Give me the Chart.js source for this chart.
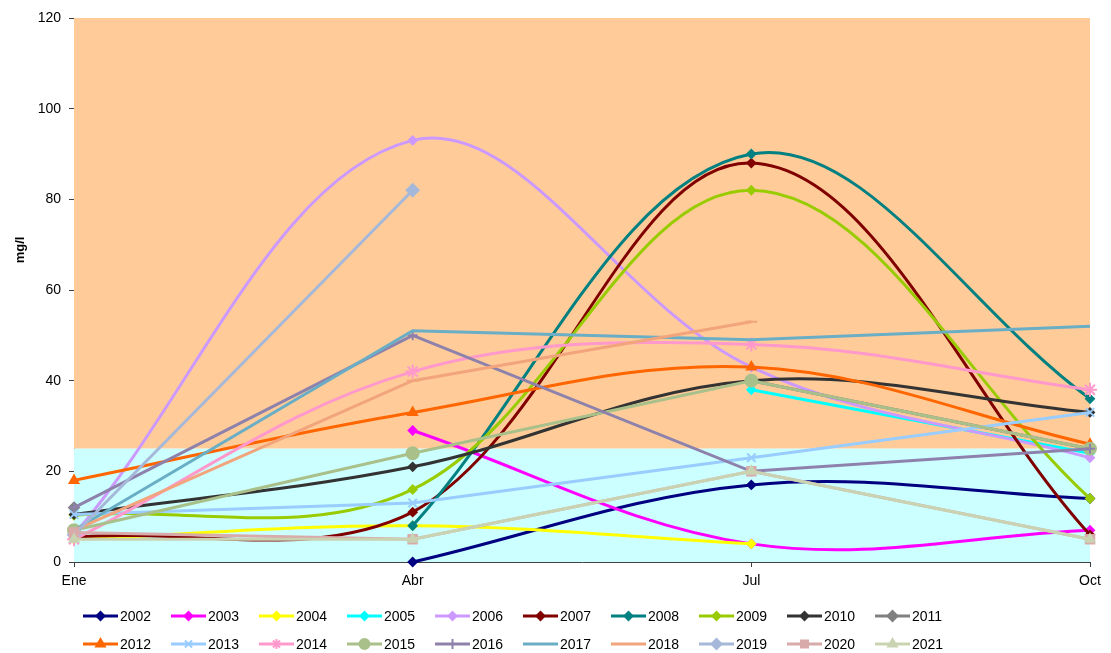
<!DOCTYPE html>
<html>
<head>
<meta charset="utf-8">
<title>mg/l</title>
<script src="https://cdn.jsdelivr.net/npm/chart.js@4/dist/chart.umd.min.js"></script>
<style>
  body { margin: 0; background: #fff; }
  #wrap { width: 1111px; height: 653px; position: relative; }
</style>
</head>
<body>
<div id="wrap"><canvas id="waterChart"></canvas></div>
<script>
const months = ["Ene", "Abr", "Jul", "Oct"];
const years = ["2002", "2003", "2004", "2005", "2006", "2007", "2008", "2009", "2010", "2011",
               "2012", "2013", "2014", "2015", "2016", "2017", "2018", "2019", "2020", "2021"];

// one array per year: Ene, Abr, Jul, Oct (null = no sample)
const v2002 = [null, 0, 17, 14];
const v2003 = [null, 29, 4, 7];
const v2004 = [5, 8, 4, null];
const v2005 = [null, null, 38, 24];
const v2006 = [6, 93, 43, 23];
const v2007 = [5.5, 11, 88, 6];
const v2008 = [null, 8, 90, 36];
const v2009 = [10.3, 16, 82, 14];
const v2010 = [10.5, 21, 40, 33];
const v2011 = [12, null, 40, 25];
const v2012 = [18, 33, 43, 26];
const v2013 = [10.5, 13, 23, 33];
const v2014 = [5, 42, 48, 38];
const v2015 = [7, 24, 40, 25];
const v2016 = [12, 50, 20, 25];
const v2017 = [7, 51, 49, 52];
const v2018 = [7, 40, 53, null];
const v2019 = [6, 82, null, null];
const v2020 = [6.5, 5, 20, 5];
const v2021 = [5, 5, 20, 5];

const yTicks = [0, 20, 40, 60, 80, 100, 120];
const limit = 25;

const values = [v2002, v2003, v2004, v2005, v2006, v2007, v2008, v2009, v2010, v2011,
                v2012, v2013, v2014, v2015, v2016, v2017, v2018, v2019, v2020, v2021];

const colors = ["#000080", "#FF00FF", "#FFFF00", "#00FFFF", "#CC99FF", "#800000", "#008080", "#99CC00", "#333333", "#808080",
                "#FF6600", "#99CCFF", "#FF99CC", "#A9C08A", "#8E82AC", "#6AAEC6", "#F2A47C", "#A6B8DA", "#D9AAAA", "#C9D3B2"];
const markers = ["rectRot", "rectRot", "rectRot", "rectRot", "rectRot", "rectRot", "rectRot", "rectRot", "rectRot", "rectRot",
                 "triangle", "crossRot", "star", "circle", "cross", false, "line", "rectRot", "rect", "triangle"];
const markerSize = [4, 4, 4, 4, 4, 4, 4, 4, 4, 5, 5, 6, 7, 6, 5, 0, 6, 6, 6, 5];
const smooth = [true, true, true, false, true, true, true, true, true, false,
                true, false, true, false, false, false, false, false, false, false];

const datasets = years.map(function (y, i) {
  return {
    label: y,
    data: values[i],
    borderColor: colors[i],
    backgroundColor: colors[i],
    pointBackgroundColor: colors[i],
    pointBorderColor: colors[i],
    pointStyle: markers[i],
    pointRadius: markerSize[i],
    pointBorderWidth: 2,
    borderWidth: 3,
    tension: smooth[i] ? 0.36 : 0,
    spanGaps: false,
    clip: false,
    order: years.length - i,
  };
});

// orange / cyan background split at the limit value
const bands = {
  id: "bands",
  beforeDatasetsDraw(chart) {
    const { ctx, chartArea: a, scales } = chart;
    const yLim = scales.y.getPixelForValue(limit);
    ctx.save();
    ctx.fillStyle = "#FFCC99";
    ctx.fillRect(a.left, a.top, a.right - a.left, yLim - a.top);
    ctx.fillStyle = "#CCFFFF";
    ctx.fillRect(a.left, yLim, a.right - a.left, a.bottom - yLim);
    ctx.restore();
  },
};

// axis title and two-row legend with line samples
const extras = {
  id: "extras",
  afterDraw(chart) {
    const ctx = chart.ctx;
    ctx.save();
    ctx.fillStyle = "#000";
    ctx.font = "bold 13px 'Liberation Sans', Arial, sans-serif";
    ctx.translate(20, 250);
    ctx.rotate(-Math.PI / 2);
    ctx.textAlign = "center";
    ctx.textBaseline = "middle";
    ctx.fillText("mg/l", 0, 0);
    ctx.restore();

    ctx.save();
    ctx.font = "14px 'Liberation Sans', Arial, sans-serif";
    ctx.textBaseline = "middle";
    ctx.textAlign = "left";
    chart.data.datasets.forEach(function (ds, i) {
      const x = 83 + (i % 10) * 88;
      const y = 616 + Math.floor(i / 10) * 28;
      ctx.strokeStyle = ds.borderColor;
      ctx.lineWidth = 3;
      ctx.beginPath();
      ctx.moveTo(x, y);
      ctx.lineTo(x + 35, y);
      ctx.stroke();
      if (ds.pointStyle && Chart.helpers && Chart.helpers.drawPoint) {
        ctx.fillStyle = ds.pointBackgroundColor;
        ctx.lineWidth = 2;
        Chart.helpers.drawPoint(ctx, {
          pointStyle: ds.pointStyle,
          radius: Math.min(ds.pointRadius, 5),
          borderWidth: 2,
          rotation: 0,
        }, x + 17.5, y);
      }
      ctx.fillStyle = "#000";
      ctx.fillText(ds.label, x + 37, y + 1);
    });
    ctx.restore();
  },
};

Chart.defaults.font.family = "'Liberation Sans', Arial, sans-serif";
Chart.defaults.font.size = 14;
Chart.defaults.color = "#000";

const ctx = document.getElementById("waterChart").getContext("2d");
const chart = new Chart(ctx, {
  type: "line",
  data: { labels: months, datasets: datasets },
  options: {
    responsive: true,
    maintainAspectRatio: false,
    animation: false,
    layout: { padding: { left: 0, top: 18, right: 21, bottom: 63 } },
    plugins: {
      legend: { display: false },
      tooltip: { enabled: false },
    },
    scales: {
      x: {
        type: "category",
        offset: false,
        afterFit: function (scale) { scale.height = 28; },
        grid: { drawOnChartArea: false, tickLength: 5, color: "#404040" },
        border: { color: "#404040", width: 1 },
        ticks: { padding: 6, maxRotation: 0 },
      },
      y: {
        min: 0,
        max: 120,
        afterFit: function (scale) { scale.width = 74; },
        afterBuildTicks: function (scale) {
          scale.ticks = yTicks.map(function (v) { return { value: v }; });
        },
        grid: { drawOnChartArea: false, tickLength: 5, color: "#404040" },
        border: { color: "#404040", width: 1 },
        ticks: { padding: 8 },
      },
    },
  },
  plugins: [bands, extras],
});
</script>
</body>
</html>
